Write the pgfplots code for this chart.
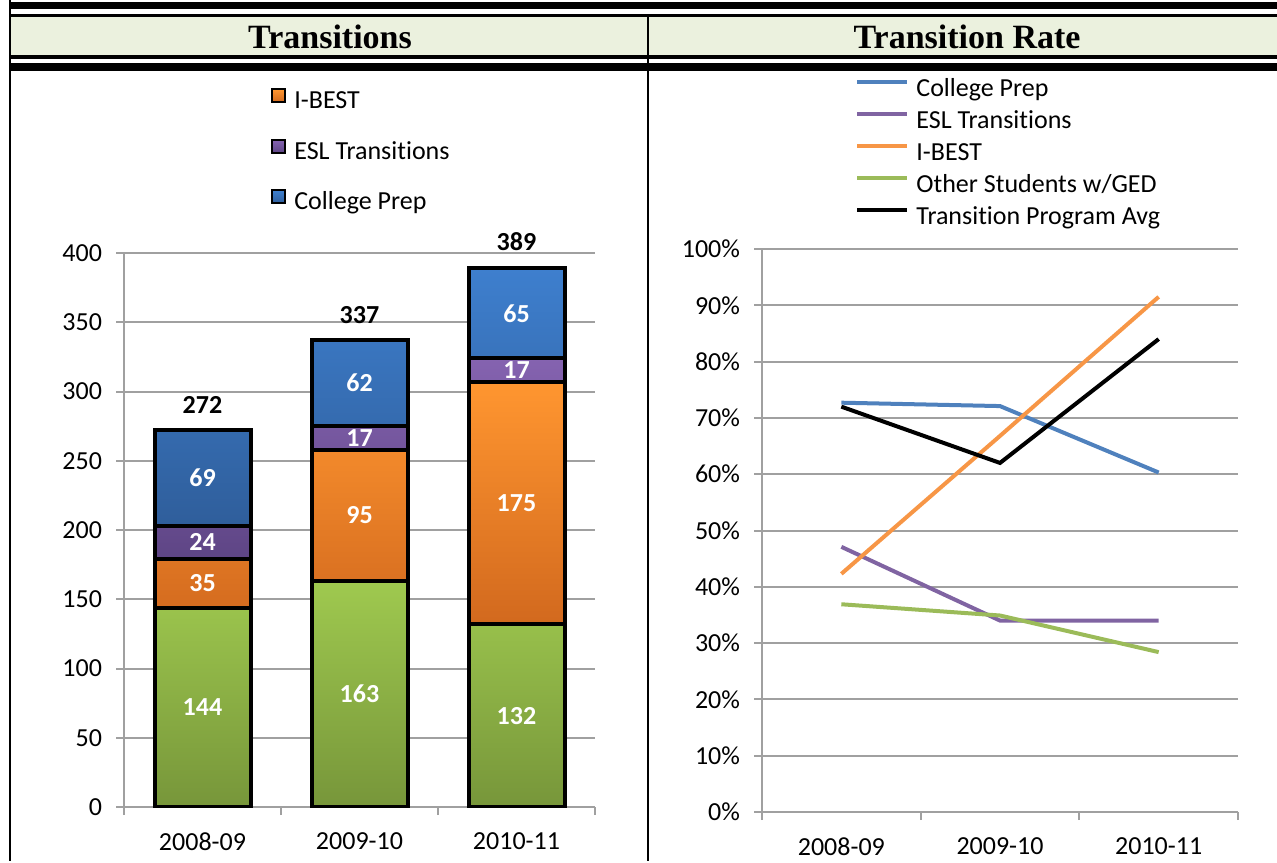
\documentclass[border=0pt]{standalone}
\usepackage{fontspec}
\setmainfont{Carlito}[Ligatures=NoCommon]
\newfontfamily\titlefont{Liberation Serif}
\usepackage{pgfplots}
\pgfplotsset{compat=1.18}
\definecolor{hdr}{HTML}{EBF1DE}
\definecolor{gridc}{HTML}{A0A0A0}
\definecolor{cpblue}{HTML}{4F81BD}
\definecolor{eslpur}{HTML}{8064A2}
\definecolor{ibor}{HTML}{F79646}
\definecolor{othgr}{HTML}{9BBB59}
\definecolor{gtop}{HTML}{9FC94F}
\definecolor{gbot}{HTML}{77963A}
\definecolor{otop}{HTML}{FF9630}
\definecolor{obot}{HTML}{D2691E}
\definecolor{ptop}{HTML}{8563B0}
\definecolor{pbot}{HTML}{5E4585}
\definecolor{btop}{HTML}{3E7FCE}
\definecolor{bbot}{HTML}{2F5E9B}
\newcommand\cf{\fontsize{13}{15}\selectfont}
\pgfplotsset{
  mybase/.style={
    scale only axis, anchor=south west,
    xmin=-0.5, xmax=2.5,
    xtick={-0.5,0.5,1.5,2.5}, xticklabels={},
    extra x ticks={0,1,2}, extra x tick labels={2008-09,2009-10,2010-11},
    extra x tick style={major tick length=0pt},
    axis x line*=bottom, axis y line*=left,
    axis line style={gridc, line width=1pt},
    tick style={gridc, line width=1pt},
    tick align=outside, major tick length=4pt,
    ymajorgrids, grid style={gridc, line width=1pt},
    tick label style={font=\cf, text=black},
    xticklabel style={yshift=-9.5pt},
    yticklabel style={xshift=-3.5pt},
  }
}
\begin{document}
\begin{tikzpicture}
\begin{scope}[x=0.5pt,y=-0.5pt,shift={(0,430.5pt)}]
\path[use as bounding box] (0,0) rectangle (1277,861);
\fill[black] (9,0) rectangle (11,861);
\fill[black] (11,2) rectangle (1277,9.5);
\fill[black] (11,14) rectangle (1277,17);
\fill[hdr] (11,17) rectangle (1277,55);
\fill[black] (11,55) rectangle (1277,59);
\fill[black] (11,63) rectangle (1277,71);
\fill[black] (646.5,14) rectangle (649,861);
\node[font=\titlefont\bfseries\fontsize{17}{20}\selectfont] at (330,37) {Transitions};
\node[font=\titlefont\bfseries\fontsize{17}{20}\selectfont] at (967,37) {Transition Rate};
\end{scope}

% ---- left: stacked bars ----
\begin{axis}[mybase,
  at={(62pt,27pt)}, width=235.5pt, height=277pt,
  ybar stacked, bar width=48pt,
  ymin=0, ymax=400,
  ytick={0,50,...,400}, yticklabels={0,50,100,150,200,250,300,350,400},
  legend style={at={(0.312,1.298)}, anchor=north west, draw=none, fill=none,
    inner sep=0pt, font=\cf, row sep=12.5pt,
    nodes={inner sep=0pt, text height=9.5pt, text depth=2.5pt},
    /tikz/every odd column/.append style={column sep=4pt}},
  legend cell align=left,
  legend image code/.code={\draw[#1, line width=1pt, draw=black] (0pt,-0.25pt) rectangle (6.5pt,6.25pt);},
]
\addplot[draw=black, line width=2pt, top color=gtop, bottom color=gbot, forget plot]
  coordinates {(0,144) (1,163) (2,132)};
\addplot[draw=black, line width=2pt, top color=otop, bottom color=obot]
  coordinates {(0,35) (1,95) (2,175)};
\addlegendentry{I-BEST}
\addplot[draw=black, line width=2pt, top color=ptop, bottom color=pbot]
  coordinates {(0,24) (1,17) (2,17)};
\addlegendentry{ESL Transitions}
\addplot[draw=black, line width=2pt, top color=btop, bottom color=bbot]
  coordinates {(0,69) (1,62) (2,65)};
\addlegendentry{College Prep}
\end{axis}

% ---- left: labels overlay ----
\begin{axis}[scale only axis, anchor=south west, at={(62pt,27pt)}, width=235.5pt, height=277pt,
  xmin=-0.5, xmax=2.5, ymin=0, ymax=400, hide axis, clip=false]
\addplot[draw=none, mark=none, nodes near coords, point meta=explicit symbolic,
  every node near coord/.append style={font=\cf\bfseries, text=white, anchor=center}]
  table[meta=lab]{
x y lab
0 72 144
0 161.5 35
0 191 24
0 237.5 69
1 81.5 163
1 210.5 95
1 266.5 17
1 306 62
2 66 132
2 219.5 175
2 315.5 17
2 356.5 65
};
\addplot[draw=none, mark=none, nodes near coords, point meta=explicit symbolic,
  every node near coord/.append style={font=\cf\bfseries, text=black, anchor=south, yshift=5pt}]
  table[meta=lab]{
x y lab
0 272 272
1 337 337
2 389 389
};
\end{axis}

% ---- right: lines ----
\begin{axis}[mybase,
  at={(381pt,24.5pt)}, width=238pt, height=281.5pt,
  ymin=0, ymax=100,
  ytick={0,10,...,100}, yticklabels={0\%,10\%,20\%,30\%,40\%,50\%,60\%,70\%,80\%,90\%,100\%},
  legend style={at={(0.1954,1.3055)}, anchor=north west, draw=none, fill=none,
    inner sep=0pt, font=\cf, row sep=4pt,
    nodes={inner sep=0pt, text height=9.5pt, text depth=2.5pt},
    /tikz/every odd column/.append style={column sep=3.5pt}},
  legend cell align=left,
  legend image code/.code={\draw[#1, line width=2pt] (0pt,3.5pt) -- (25pt,3.5pt);},
  every axis plot/.append style={line width=2pt, mark=none},
]
\addplot[cpblue] coordinates {(0,72.7) (1,72.1) (2,60.3)};
\addlegendentry{College Prep}
\addplot[eslpur] coordinates {(0,47.1) (1,34.0) (2,34.0)};
\addlegendentry{ESL Transitions}
\addplot[ibor] coordinates {(0,42.3) (1,66.8) (2,91.5)};
\addlegendentry{I-BEST}
\addplot[othgr] coordinates {(0,36.9) (1,34.9) (2,28.4)};
\addlegendentry{Other Students w/GED}
\addplot[black] coordinates {(0,72.0) (1,62.0) (2,84.0)};
\addlegendentry{Transition Program Avg}
\end{axis}
\end{tikzpicture}
\end{document}
